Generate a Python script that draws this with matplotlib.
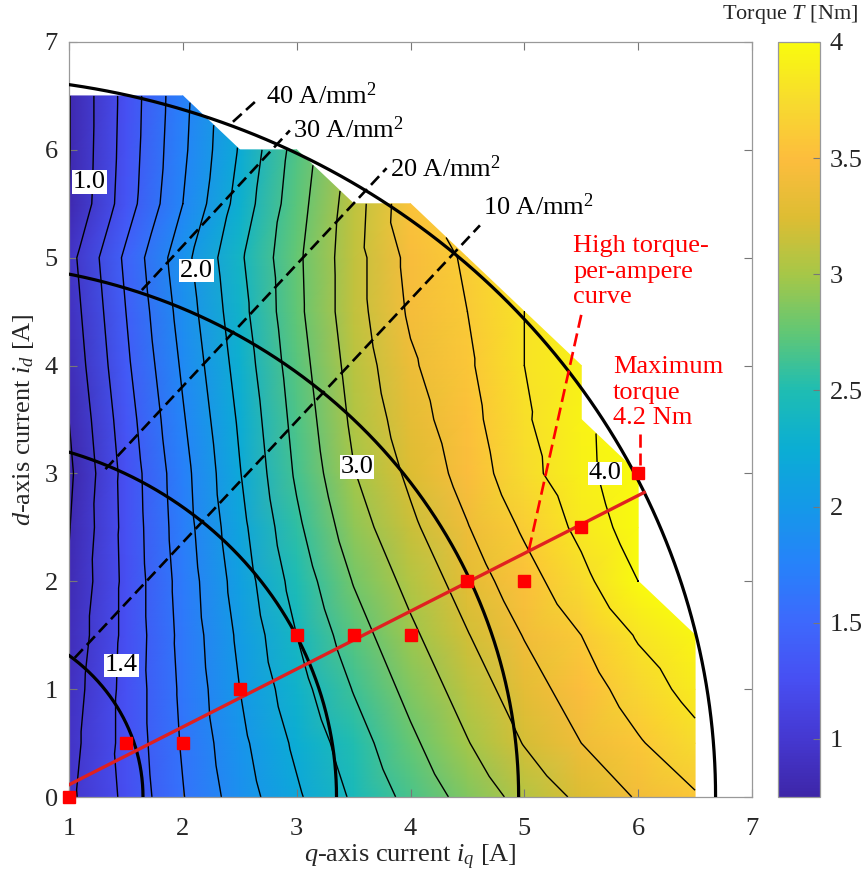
import numpy as np
import matplotlib
matplotlib.use("Agg")
import matplotlib.pyplot as plt
import matplotlib.tri as mtri
from matplotlib.colors import LinearSegmentedColormap

plt.rcParams['font.family'] = ['Liberation Serif', 'DejaVu Serif']
plt.rcParams['mathtext.fontset'] = 'custom'
plt.rcParams['mathtext.rm'] = 'Liberation Serif'
plt.rcParams['mathtext.it'] = 'Liberation Serif:italic'

# ---------------- data ----------------
iq_grid = [1.0, 1.5, 2.0, 2.5, 3.0, 3.5, 4.0, 4.5, 5.0, 5.5, 6.0, 6.5]
id_grid = [0.0, 0.5, 1.0, 1.5, 2.0, 2.5, 3.0, 3.5, 4.0, 4.5, 5.0, 5.5, 6.0, 6.5]
nan = np.nan
# torque T [Nm] on the (id, iq) grid, rows = id_grid, cols = iq_grid
torque = [
    [0.96, 1.24, 1.59, 1.90, 2.17, 2.43, 2.66, 2.87, 3.07, 3.24, 3.42, 3.58],
    [0.93, 1.26, 1.62, 1.95, 2.24, 2.51, 2.76, 2.99, 3.21, 3.40, 3.58, 3.74],
    [0.90, 1.26, 1.64, 2.00, 2.32, 2.61, 2.86, 3.09, 3.31, 3.50, 3.70, 3.87],
    [0.86, 1.25, 1.66, 2.04, 2.40, 2.71, 2.96, 3.19, 3.41, 3.60, 3.82, 3.96],
    [0.82, 1.25, 1.68, 2.09, 2.48, 2.81, 3.06, 3.29, 3.52, 3.74, 4.00, nan],
    [0.79, 1.26, 1.71, 2.14, 2.56, 2.91, 3.16, 3.39, 3.63, 3.85, 4.12, nan],
    [0.76, 1.27, 1.73, 2.19, 2.63, 2.99, 3.24, 3.48, 3.74, 3.92, 4.20, nan],
    [0.80, 1.31, 1.78, 2.23, 2.67, 3.04, 3.31, 3.53, 3.78, 3.93, nan, nan],
    [0.85, 1.36, 1.83, 2.28, 2.71, 3.08, 3.37, 3.57, 3.80, 3.92, nan, nan],
    [0.89, 1.40, 1.88, 2.33, 2.75, 3.12, 3.43, 3.60, 3.80, nan, nan, nan],
    [0.93, 1.44, 1.93, 2.37, 2.76, 3.12, 3.46, 3.63, nan, nan, nan, nan],
    [0.80, 1.30, 1.80, 2.28, 2.72, 3.10, 3.55, nan, nan, nan, nan, nan],
    [0.79, 1.28, 1.76, 2.22, 2.68, nan, nan, nan, nan, nan, nan, nan],
    [0.79, 1.27, 1.74, nan, nan, nan, nan, nan, nan, nan, nan, nan],
]

# high torque-per-ampere points
htpa_iq = [1.0, 1.5, 2.0, 2.5, 3.0, 3.5, 4.0, 4.5, 5.0, 5.5, 6.0]
htpa_id = [0.0, 0.5, 0.5, 1.0, 1.5, 1.5, 1.5, 2.0, 2.0, 2.5, 3.0]

# current-density limit circles
density_values = [10, 20, 30, 40]
density_radius = [1.65, 3.35, 4.95, 6.68]

contour_levels_step = 0.2
contour_label_text = ['1.0', '1.4', '2.0', '3.0', '4.0']
cbar_ticks = [1, 1.5, 2, 2.5, 3, 3.5, 4]

# ---------------- annotation layout ----------------
contour_label_pos = [(1.18, 5.70), (1.46, 1.22), (2.12, 4.88), (3.53, 3.06), (5.71, 3.00)]
density_leader = [  # (start on circle, end, text anchor)
    ((1.05, 1.29), (4.61, 5.30), (4.64, 5.47)),
    ((1.32, 3.04), (3.79, 5.83), (3.82, 5.83)),
    ((1.64, 4.70), (2.94, 6.18), (2.97, 6.19)),
    ((2.44, 6.26), (2.66, 6.47), (2.73, 6.50)),
]

# parula-like colormap (anchor colours)
parula_anchor = [
    (0.2422, 0.1504, 0.6603), (0.27, 0.22, 0.82), (0.28, 0.31, 0.95),
    (0.24, 0.41, 0.99), (0.15, 0.51, 0.98), (0.08, 0.60, 0.91),
    (0.04, 0.68, 0.83), (0.12, 0.74, 0.70), (0.38, 0.78, 0.46),
    (0.65, 0.78, 0.28), (0.87, 0.74, 0.20), (0.99, 0.74, 0.24),
    (0.97, 0.86, 0.18), (0.9763, 0.9831, 0.0538),
]
parula = LinearSegmentedColormap.from_list('parula', parula_anchor, N=256)
vmin, vmax = 0.75, 4.0

# ---------------- triangulation of the valid grid ----------------
Z = np.array(torque, dtype=float)
X, Y = np.meshgrid(iq_grid, id_grid)
valid = ~np.isnan(Z)
nr, nc = Z.shape
index = -np.ones(Z.shape, dtype=int)
index[valid] = np.arange(valid.sum())
px, py, pz = X[valid], Y[valid], Z[valid]
tris = []
for j in range(nr - 1):
    for i in range(nc - 1):
        corners = [(j, i), (j, i + 1), (j + 1, i + 1), (j + 1, i)]
        ok = [valid[c] for c in corners]
        ids = [index[c] for c in corners]
        if all(ok):
            tris += [[ids[0], ids[1], ids[2]], [ids[0], ids[2], ids[3]]]
        elif sum(ok) == 3:
            tris.append([ids[k] for k in range(4) if ok[k]])
triang = mtri.Triangulation(px, py, np.array(tris))

# ---------------- figure ----------------
W, H = 861, 875
fig = plt.figure(figsize=(W / 100, H / 100), dpi=100)
ax = fig.add_axes([69 / W, 1 - 797 / H, (752 - 69) / W, (797 - 42) / H])
cax = fig.add_axes([778 / W, 1 - 797 / H, 42 / W, (797 - 42) / H])

tpc = ax.tripcolor(triang, pz, shading='gouraud', cmap=parula, vmin=vmin, vmax=vmax, zorder=1)
levels = np.arange(0.8, 4.21, contour_levels_step)
ax.tricontour(triang, pz, levels=levels, colors='k', linewidths=1.0, zorder=2)

# current density circles
th = np.linspace(0, np.pi / 2, 400)
for r in density_radius:
    ax.plot(r * np.cos(th), r * np.sin(th), color='k', lw=2.3, zorder=3)

for (val, (s, e, t)) in zip(density_values, density_leader):
    ax.plot([s[0], e[0]], [s[1], e[1]], color='k', lw=1.9, ls=(0, (4.5, 2.2)), zorder=3)
    ax.text(t[0], t[1], f'{val} A/mm$^2$', fontsize=19, ha='left', va='center', zorder=6)

# contour labels
for txt, (x, y) in zip(contour_label_text, contour_label_pos):
    ax.text(x, y, txt, fontsize=19, ha='center', va='center', zorder=6,
            bbox=dict(facecolor='white', edgecolor='none', pad=0.5))

# HTPA fit line and points
m, b = np.polyfit(htpa_iq, htpa_id, 1)
R = density_radius[-1]
qa, qb, qc = 1 + m * m, 2 * m * b, b * b - R * R
x_end = (-qb + np.sqrt(qb * qb - 4 * qa * qc)) / (2 * qa)
xl = np.array([iq_grid[0], x_end])
ax.plot(xl, m * xl + b, color='#e02020', lw=2.4, zorder=4)
ax.plot(htpa_iq, htpa_id, ls='none', marker='s', ms=9, color='#ff0000', zorder=5, clip_on=False)

# red annotations
ax.text(5.43, 4.87, 'High torque-\nper-ampere\ncurve', color='red', fontsize=19,
        ha='left', va='center', linespacing=1.22, zorder=6)
ax.plot([5.50, 5.04], [4.47, 2.29], color='red', lw=1.9, ls=(0, (5, 2.2)), zorder=6)
ax.text(5.78, 3.75, 'Maximum\ntorque\n4.2 Nm', color='red', fontsize=19,
        ha='left', va='center', linespacing=1.22, zorder=6)
ax.plot([6.02, 6.02], [3.37, 3.08], color='red', lw=1.9, ls=(0, (5, 2.2)), zorder=6)

ax.set_xlim(1, 7)
ax.set_ylim(0, 7)
ax.set_xticks(range(1, 8))
ax.set_yticks(range(0, 8))
ax.tick_params(direction='in', top=True, right=True, length=6, width=0.8,
               labelsize=19, color='#777777', labelcolor='#262626')
ax.tick_params(axis='x', pad=15)
ax.tick_params(axis='y', pad=8)
for sp in ax.spines.values():
    sp.set_color('#999999')
    sp.set_linewidth(0.9)
ax.set_xlabel('$q$-axis current $i_q$ [A]', fontsize=19, color='#262626', labelpad=2)
ax.set_ylabel('$d$-axis current $i_d$ [A]', fontsize=19, color='#262626', labelpad=6)

cb = fig.colorbar(tpc, cax=cax, ticks=cbar_ticks)
cb.ax.set_yticklabels([f'{t:g}' for t in cbar_ticks])
cb.ax.tick_params(direction='in', length=5, width=0.8, labelsize=19, color='#777777',
                  labelcolor='#262626', pad=7)
cb.outline.set_edgecolor('#999999')
cb.outline.set_linewidth(0.9)
fig.text(858 / W, 1 - 14 / H, 'Torque $T$ [Nm]', fontsize=16, ha='right', va='center', color='#262626')

fig.savefig('out.png', dpi=100)
